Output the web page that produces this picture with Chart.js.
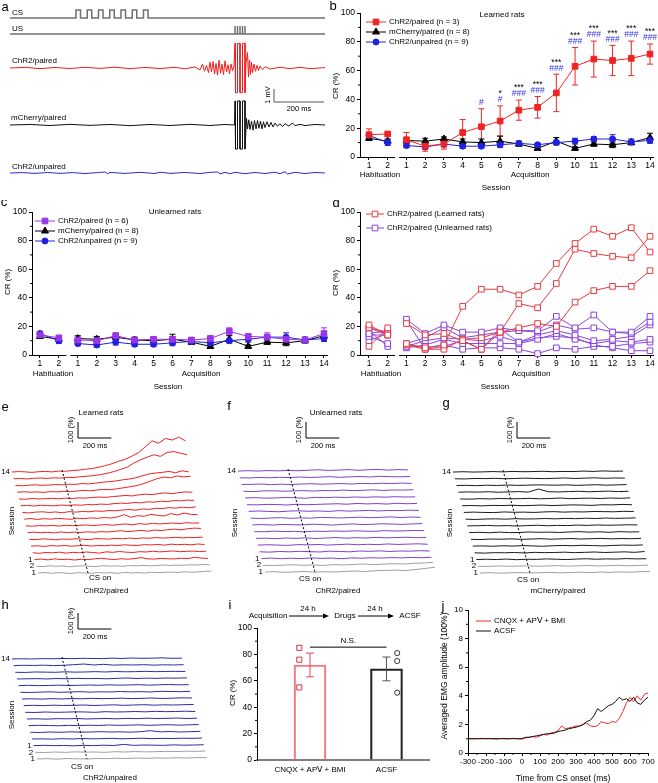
<!DOCTYPE html>
<html><head><meta charset="utf-8">
<script src="https://cdn.jsdelivr.net/npm/chart.js@4.4.1/dist/chart.umd.min.js"></script>
<style>
html,body{margin:0;padding:0;background:#fff;}
#wrap{position:relative;width:658px;height:783px;overflow:hidden;background:#fff;}
canvas{position:absolute;}
</style></head><body><div id="wrap"></div>
<script>
// ================= DATA =================
// Sessions: 2 habituation + 14 acquisition
const sessionLabels = ['1','2','1','2','3','4','5','6','7','8','9','10','11','12','13','14'];

// Panel b: learned rats, CR (%) mean and SEM
const learnedPairedMean = [15.5,16, 12,7.5,9,17,21,25,32.5,34.5,44.5,63,68,67,68.5,71.5];
const learnedPairedErr  = [4,1.5, 5,3.5,3.5,9,12.5,10.5,7,7.5,13,13,12.5,10.5,12,7];
const mCherryMean  = [13,11, 11.5,11,12.5,10.5,10,11,9,6,11,6,9,8.5,10,13.5];
const mCherryErr   = [1.5,1.5, 2,2,1.5,2,2.5,3.5,1.5,1,2.5,1,1.5,2,1.5,3];
const unpairedMean = [15,10, 8,7,9,7.5,7.5,8.5,9.5,8.5,10,11,12.5,12.5,10.5,11.5];
const unpairedErr  = [1.5,2, 1.5,1.5,2,1.5,1.5,2,1.5,1,1.5,2,1.5,3,2,2];
const starMarks = ['','','','','','','','*','***','***','***','***','***','***','***','***'];
const hashMarks = ['','','','','','','#','#','###','###','###','###','###','###','###','###'];

// Panel c: unlearned rats
const unlearnedPairedMean = [14,12, 10.5,10,13.5,10.5,11,11,10.5,11.5,16.5,13,12.5,11,10.5,15];
const unlearnedPairedErr  = [1.5,1.5, 2,2,2,1.5,1.5,2,1.5,2,2.5,1.5,3,2,2,4];

// Panel d: individual ChR2/paired rats
const learnedRat1 = [21,14, 8,5,7,34,46,46,42,48,64,78,88,83,89,72];
const learnedRat2 = [6,19, 22,14,15,10,4,16,36,33,50,74,71,69,68,83];
const learnedRat3 = [19,14, 7,4,4,11,12,16,19,22,20,37,45,48,48,59];
const unlearnedRat1 = [19,16, 25,15,21,16,16,19,17,17,27,19,28,16,16,27];
const unlearnedRat2 = [15,17, 8,12,19,12,14,16,17,16,21,18,19,16,15,23];
const unlearnedRat3 = [13,8, 6,10,12,11,10,13,9,14,17,14,10,11,13,21];
const unlearnedRat4 = [10,15, 5,7,11,8,8,8,8,11,15,11,8,10,9,11];
const unlearnedRat5 = [17,6, 7,5,7,4,5,5,4,1,5,4,6,6,8,9];
const unlearnedRat6 = [14,14, 24,4,6,10,4,18,9,12,13,12,7,5,3,3];

// Panel a: stimulus timing (ms) and EMG examples [ms, mV]
const traceDurationMs = 1260;
const csPulseOnsets = [264,309,354,399,444,489,534];
const csPulseWidth = 18;
const usPulseTimes = [900,910,920,930,940];
const emgChR2Paired = [[0,0],[60,0.05],[120,-0.05],[180,0.04],[240,-0.04],[300,0.05],[360,-0.03],[420,0.06],[480,-0.05],[540,0.04],[600,-0.04],[660,0.05],[700,-0.06],[740,0.08],[760,-0.15],[770,0.3],[778,-0.25],[786,0.2],[794,-0.35],[800,0.45],[806,-0.3],[812,0.5],[818,-0.45],[824,0.35],[830,-0.55],[836,0.6],[842,-0.4],[848,0.3],[854,-0.5],[860,0.55],[866,-0.3],[872,0.25],[878,-0.45],[884,0.3],[890,-0.2],[896,0.15],[900,1.9],[902,-1.9],[910,-1.9],[910,1.9],[920,1.9],[920,-1.9],[930,-1.9],[930,1.9],[940,1.9],[940,-1.9],[944,0.4],[950,1.2],[954,-0.7],[958,0.6],[962,-0.5],[966,0.45],[970,-0.35],[976,0.3],[982,-0.25],[988,0.2],[994,-0.2],[1000,0.15],[1010,-0.12],[1020,0.1],[1040,-0.08],[1080,0.06],[1120,-0.05],[1160,0.05],[1200,-0.05],[1260,0.03]];
const emgMCherryPaired = [[0,0],[80,0.04],[160,-0.04],[240,0.05],[320,-0.03],[400,0.04],[480,-0.05],[560,0.04],[640,-0.04],[720,0.05],[800,-0.04],[860,0.04],[898,0],[900,1.85],[902,-1.85],[910,-1.85],[910,1.85],[920,1.85],[920,-1.85],[930,-1.85],[930,1.85],[940,1.85],[940,-1.85],[946,0.5],[950,-0.3],[955,0.4],[960,-0.35],[966,0.3],[972,-0.4],[978,0.35],[984,-0.3],[990,0.35],[996,-0.25],[1002,0.3],[1008,-0.3],[1014,0.25],[1020,-0.2],[1028,0.25],[1036,-0.15],[1044,0.2],[1052,-0.15],[1060,0.15],[1070,-0.1],[1080,0.1],[1090,-0.12],[1100,0.1],[1115,-0.08],[1130,0.15],[1140,-0.05],[1160,0.05],[1180,-0.04],[1220,0.04],[1260,0]];
const emgChR2Unpaired = [[0,0],[50,0.03],[100,-0.03],[150,0.04],[200,-0.03],[250,0.03],[300,-0.04],[350,0.03],[380,0.08],[390,-0.06],[400,0.04],[460,-0.03],[520,0.05],[580,-0.04],[600,0.06],[640,-0.03],[700,0.04],[760,-0.04],[800,0.05],[830,0.08],[840,-0.07],[860,0.05],[880,-0.06],[900,0.05],[940,-0.05],[980,0.04],[1020,-0.04],[1060,0.06],[1080,-0.05],[1100,0.1],[1110,-0.08],[1140,0.05],[1180,-0.04],[1220,0.04],[1260,0]];

// Panels e-h: session-averaged EMG (% above baseline); rows: Hab1, Hab2, Acq1..Acq14
const timesE = [-300,-260,-220,-180,-140,-100,-60,-20,20,60,100,140,180,220,260,300,340,380,420,460,500,540,580,620,660,700,740];
const learnedEMG = [
 [0,3,-2,2,0,-3,2,0,-2,3,0,2,-2,4,0,3,-1,5,2,4,6,3,8,5,7,10,12],
 [0,-2,3,0,2,-3,1,3,0,-2,4,1,3,0,5,2,6,3,4,8,5,7,6,9,8,11,9],
 [0,3,-2,4,0,2,-3,2,0,4,8,3,0,5,2,6,12,4,3,7,5,4,8,6,14,9,7],
 [0,-3,2,0,4,-2,3,0,5,2,-2,6,3,8,4,2,7,5,10,6,8,12,7,9,11,8,10],
 [0,2,-2,3,0,4,-1,2,5,0,4,2,6,3,8,5,4,9,7,10,6,12,9,11,8,13,10],
 [0,-2,3,1,-3,2,0,4,1,-2,5,3,2,6,4,8,5,9,7,11,8,10,13,9,12,11,14],
 [0,3,-1,2,-2,4,0,3,1,5,2,6,4,8,12,6,10,14,9,16,13,18,22,17,24,28,26],
 [0,-2,2,0,3,-1,4,1,3,6,2,5,8,4,9,12,7,14,10,16,12,15,18,14,20,17,19],
 [0,4,-2,3,0,5,2,-1,6,3,8,5,10,7,14,28,12,22,18,30,24,20,35,26,38,30,28],
 [0,-3,2,4,0,3,-2,5,2,6,4,9,7,12,10,15,18,14,22,19,26,24,30,27,33,29,35],
 [0,2,-2,3,1,-1,4,2,5,3,7,6,10,8,13,16,14,20,18,24,22,28,26,32,30,35,33],
 [0,-2,3,0,2,4,1,5,3,7,5,9,12,10,15,18,22,19,26,30,27,34,38,33,40,44,42],
 [0,3,0,2,-1,4,2,6,4,8,11,9,14,18,16,22,28,35,42,55,70,85,95,90,102,96,100],
 [0,-2,2,4,1,3,6,4,8,7,12,10,15,20,24,28,35,40,48,60,72,78,82,88,80,92,85],
 [0,2,-1,3,5,2,6,4,9,8,13,16,20,26,34,45,58,72,98,118,135,150,140,165,170,160,150],
 [0,3,1,-2,2,4,1,6,5,9,12,18,22,30,40,52,68,80,100,122,158,195,180,210,200,218,195]];
const timesFGH = [-300,-240,-180,-120,-60,0,60,120,180,240,300,360,420,480,540,600,660,720];
const unlearnedEMG = [
 [0,2,-2,1,3,-1,2,0,4,6,3,8,10,12,9,15,22,30],
 [0,-2,1,3,0,2,-1,4,2,5,8,4,7,10,8,12,14,18],
 [0,3,-1,2,0,4,1,3,-1,4,2,5,3,6,4,7,5,8],
 [0,-2,2,0,3,1,-1,4,2,0,5,3,6,2,5,4,7,5],
 [0,2,0,-2,3,1,4,0,3,6,2,5,3,7,4,6,8,5],
 [0,1,-2,2,0,3,-1,2,5,1,4,2,6,3,5,7,4,6],
 [0,-1,3,0,2,-2,3,1,4,2,5,3,2,6,4,5,7,6],
 [0,2,-1,3,1,0,4,2,-1,3,6,2,4,7,5,3,6,8],
 [0,-2,1,3,-1,2,0,5,3,1,4,6,3,5,8,4,7,5],
 [0,3,0,-2,2,4,1,3,0,5,2,4,7,3,6,5,8,6],
 [0,-1,2,1,-2,3,0,2,4,6,3,8,5,7,4,9,6,8],
 [0,2,-1,0,3,1,-2,4,2,5,3,6,4,7,5,8,6,7],
 [0,-2,2,3,0,2,4,1,5,3,7,4,6,9,5,8,7,10],
 [0,1,3,-1,2,0,3,5,2,4,6,3,7,5,8,6,9,7],
 [0,-1,2,0,3,1,5,2,4,7,3,6,8,5,9,7,6,8],
 [0,2,0,3,1,4,2,5,8,4,6,9,5,8,10,6,9,7]];
const mCherryEMG = [
 [0,2,-1,1,3,0,2,4,1,3,5,2,6,4,7,5,8,10],
 [0,-1,2,0,1,3,0,2,4,1,3,5,2,4,6,3,5,7],
 [0,2,0,3,-1,2,1,4,2,0,3,5,2,4,3,6,4,5],
 [0,-2,1,0,2,-1,3,1,2,4,1,3,5,2,4,6,3,8],
 [0,1,-1,2,0,3,1,-1,2,4,2,5,3,1,4,6,5,7],
 [0,-1,2,1,3,0,2,4,1,3,5,2,4,6,3,5,4,6],
 [0,2,-1,3,0,1,4,2,3,1,4,6,3,5,2,6,4,5],
 [0,1,3,0,2,-1,2,4,1,3,2,5,3,6,4,5,7,6],
 [0,-2,1,2,0,3,1,2,4,2,5,3,6,4,7,5,6,8],
 [0,2,0,-1,3,1,2,0,3,5,2,4,3,6,5,4,7,6],
 [0,1,-1,2,1,3,0,2,4,1,3,5,4,2,6,5,8,6],
 [0,-1,2,0,3,1,2,4,1,3,6,2,4,5,3,6,4,7],
 [0,2,1,3,0,2,4,1,20,3,2,4,6,3,5,7,4,6],
 [0,1,-1,2,0,3,1,2,4,3,2,4,1,3,5,2,4,6],
 [0,-1,2,1,3,0,2,4,2,1,3,5,2,4,6,3,5,4],
 [0,2,0,1,3,1,4,2,3,5,2,4,3,6,4,7,5,6]];
const unpairedEMG = [
 [0,2,-1,3,1,0,4,2,5,3,6,4,7,5,8,6,9,8],
 [0,-1,2,0,3,1,2,0,4,2,5,3,4,6,5,7,6,8],
 [0,2,0,1,-1,2,0,3,1,8,2,4,3,2,5,3,4,6],
 [0,1,-1,2,0,3,1,2,4,1,3,5,2,4,3,5,4,6],
 [0,-1,2,0,3,1,2,4,2,3,1,4,10,3,5,2,4,6],
 [0,2,1,-1,2,0,3,1,4,2,3,5,2,4,6,3,5,7],
 [0,1,-1,2,1,3,0,2,3,1,4,2,5,3,4,6,3,5],
 [0,-1,2,0,1,3,2,0,4,2,3,5,3,6,4,5,7,5],
 [0,2,0,3,1,2,4,1,3,5,2,4,6,3,5,4,6,7],
 [0,1,-1,2,0,3,1,4,2,3,5,2,4,6,3,5,7,6],
 [0,-1,1,3,0,2,4,1,3,2,5,3,4,2,6,5,4,6],
 [0,2,0,1,3,1,2,4,2,5,3,4,6,3,5,7,5,6],
 [0,1,2,0,3,1,4,2,3,1,4,6,3,5,4,6,5,7],
 [0,-1,2,1,0,3,1,2,4,2,5,3,4,6,4,5,6,5],
 [0,2,1,3,0,2,6,10,4,8,3,5,4,6,3,5,4,6],
 [0,1,0,2,1,3,2,4,3,2,5,3,6,4,5,7,4,5]];

// Panel i
const drugGroups = ['CNQX + APⅤ + BMI', 'ACSF'];
const drugBarMean = [72, 69];
const drugBarErr = [9, 9];
const drugRats = [85, 76, 55];
const acsfRats = [81, 75, 51];

// Panel j: averaged EMG amplitude (x100%) vs time from CS onset
const emgTimeMs = [-300,-280,-260,-240,-220,-200,-180,-160,-140,-120,-100,-80,-60,-40,-20,0,20,40,60,80,100,120,140,160,180,200,220,240,260,280,300,320,340,360,380,400,420,440,460,480,500,520,540,560,580,600,620,640,660,680,700];
const emgDrug = [1.0,0.98,1.01,1.0,0.99,1.02,1.0,0.98,1.0,1.01,0.99,1.0,1.01,0.99,1.0,0.98,1.05,1.1,1.15,1.1,1.2,1.3,1.25,1.4,1.45,1.55,1.9,1.7,1.75,1.8,1.9,1.85,2.0,2.1,1.9,1.85,1.9,2.2,2.1,2.05,2.2,2.15,2.4,2.9,3.5,3.9,3.6,4.0,3.7,4.1,4.2];
const emgACSF = [1.0,1.01,0.99,1.0,1.02,0.99,1.0,1.01,0.98,1.0,1.01,0.99,1.0,1.02,0.99,1.0,1.1,1.1,1.15,1.2,1.25,1.3,1.35,1.35,1.4,1.5,1.55,1.6,1.7,1.75,1.8,1.9,2.0,2.2,2.3,2.6,3.1,2.9,3.1,3.3,3.4,3.6,3.9,3.7,3.8,3.6,3.9,3.5,3.4,3.7,3.9];

// ================= SETUP =================
const FONT = '"Liberation Sans", Arial, sans-serif';
Chart.defaults.font.family = FONT;
Chart.defaults.font.size = 8;
Chart.defaults.color = '#000';
Chart.defaults.animation = false;
Chart.defaults.responsive = false;
Chart.defaults.maintainAspectRatio = false;
Chart.defaults.devicePixelRatio = 1;
Chart.defaults.layout.autoPadding = false;
Chart.defaults.plugins.legend.display = false;
Chart.defaults.plugins.tooltip.enabled = false;
Chart.defaults.events = [];

const RED = '#ee2424', BLUE = '#2020e0', BLACK = '#000', PURPLE = '#9b36e8';
const RED_D = '#e63a3f', PURPLE_D = '#8a44dc', GRAY = '#a0a0a0';

const wrap = document.getElementById('wrap');
function mkCanvas(left, top, w, h) {
  const c = document.createElement('canvas');
  c.width = w; c.height = h;
  c.style.left = left + 'px'; c.style.top = top + 'px';
  c.style.width = w + 'px'; c.style.height = h + 'px';
  wrap.appendChild(c);
  return c;
}
let ovId = 0;
function overlay(left, top, fn, hook) {
  const p = { id: 'ov' + (ovId++) };
  p[hook || 'afterDraw'] = function (chart) {
    const ctx = chart.ctx; ctx.save(); ctx.translate(-left, -top);
    const P = (xv, yv) => [chart.scales.x.getPixelForValue(xv) + left, chart.scales.y.getPixelForValue(yv) + top];
    fn(ctx, P, chart, left, top); ctx.restore();
  };
  return p;
}
function text(ctx, s, x, y, o) {
  o = o || {};
  ctx.save();
  ctx.font = (o.size || 8) + 'px ' + FONT;
  ctx.fillStyle = o.color || '#000';
  ctx.textAlign = o.align || 'center';
  ctx.textBaseline = o.base || 'middle';
  ctx.translate(x, y);
  if (o.rot) ctx.rotate(o.rot);
  ctx.fillText(s, 0, 0);
  ctx.restore();
}
function line(ctx, pts, color, w, dash) {
  ctx.save(); ctx.strokeStyle = color || '#000'; ctx.lineWidth = w || 1;
  if (dash) ctx.setLineDash(dash);
  ctx.beginPath();
  pts.forEach((p, i) => i ? ctx.lineTo(p[0], p[1]) : ctx.moveTo(p[0], p[1]));
  ctx.stroke(); ctx.restore();
}
function marker(ctx, style, x, y, r, fill, stroke) {
  ctx.save(); ctx.beginPath();
  if (style === 'rect') { const h = r / Math.SQRT2; ctx.rect(x - h, y - h, 2 * h, 2 * h); }
  else if (style === 'triangle') {
    for (let k = 0; k < 3; k++) { const a = k * 2 * Math.PI / 3; const px = x + Math.sin(a) * r, py = y - Math.cos(a) * r; if (k) ctx.lineTo(px, py); else ctx.moveTo(px, py); }
    ctx.closePath();
  } else ctx.arc(x, y, r, 0, 2 * Math.PI);
  ctx.fillStyle = fill; ctx.fill(); ctx.strokeStyle = stroke; ctx.lineWidth = 1; ctx.stroke(); ctx.restore();
}
function legend(ctx, items, x1, x2, y0, dy) {
  items.forEach((it, i) => {
    const y = y0 + i * dy;
    line(ctx, [[x1, y], [x2, y]], it.color, 1);
    marker(ctx, it.style, (x1 + x2) / 2, y, it.r, it.open ? '#fff' : it.color, it.color);
    text(ctx, it.label, x2 + 3, y, { align: 'left' });
  });
}
function errBar(ctx, x, yTop, yBot, color, cap) {
  line(ctx, [[x, yTop], [x, yBot]], color, 1);
  line(ctx, [[x - cap, yTop], [x + cap, yTop]], color, 1);
  line(ctx, [[x - cap, yBot], [x + cap, yBot]], color, 1);
}
const ROT = -Math.PI / 2;

// ================= SESSION CHARTS (b, c, d) =================
function sessionPoints(arr) {
  const pts = [];
  arr.forEach((v, i) => { if (i === 2) pts.push({ x: 1.5, y: null }); pts.push({ x: i, y: v }); });
  return pts;
}
function sessionChart(cfg) {
  const cv = mkCanvas(cfg.left, cfg.top, cfg.width, cfg.height);
  const xs = sessionLabels.map((_, i) => i);
  const axisCommon = { grid: { drawOnChartArea: false, tickLength: 3, color: '#000', lineWidth: 1 }, border: { color: '#000', width: 1 } };
  return new Chart(cv, {
    type: 'line',
    data: { datasets: cfg.series.map((s, si) => ({
      data: sessionPoints(s.values), borderColor: s.color, backgroundColor: s.open ? '#fff' : s.color,
      borderWidth: 1, pointStyle: s.style, pointRadius: s.r, pointBorderWidth: 1, pointBorderColor: s.color,
      pointBackgroundColor: s.open ? '#fff' : s.color, spanGaps: false, tension: 0, clip: false, order: s.z || 0 })) },
    options: {
      layout: { padding: { left: 0, top: cfg.padTop, right: cfg.padRight, bottom: 0 } },
      scales: {
        x: Object.assign({ type: 'linear', min: cfg.xmin, max: cfg.xmax,
          afterBuildTicks: s => { s.ticks = xs.map(v => ({ value: v })); },
          afterFit: s => { s.height = cfg.xH; },
          ticks: { callback: v => sessionLabels[Math.round(v)], autoSkip: false, maxRotation: 0, padding: 1, font: { size: 8.5 } } }, axisCommon),
        y: Object.assign({ type: 'linear', min: 0, max: 100,
          afterBuildTicks: s => { s.ticks = [0, 20, 40, 60, 80, 100].map(v => ({ value: v })); },
          afterFit: s => { s.width = cfg.yW; },
          ticks: { padding: 2, font: { size: 8.5 } } }, axisCommon)
      }
    },
    plugins: [
      overlay(cfg.left, cfg.top, (ctx, P) => {
        cfg.series.forEach(s => { if (!s.errs) return; s.values.forEach((v, i) => {
          const [x, yt] = P(i, v + s.errs[i]); const [, yb] = P(i, v - s.errs[i]);
          errBar(ctx, x, yt, yb, s.color, 3); }); });
      }, 'beforeDatasetsDraw'),
      overlay(cfg.left, cfg.top, (ctx, P, chart, L, Tp) => {
        const ca = chart.chartArea;
        // minor y ticks
        [10, 30, 50, 70, 90].forEach(v => { const [, y] = P(0, v); line(ctx, [[ca.left + L - 2, y], [ca.left + L, y]], '#000', 1); });
        // axis break between habituation and acquisition
        const [gx] = P(1.5, 0); ctx.fillStyle = '#fff'; ctx.fillRect(gx - 2, ca.bottom + Tp - 2, 4, 4);
        cfg.decor(ctx, P);
      })
    ]
  });
}

// ---- panel b
sessionChart({ left: 320, top: 0, width: 338, height: 200, padTop: 13, padRight: 5, yW: 40, xH: 43, xmin: -0.48, xmax: 15.16,
  series: [
    { values: learnedPairedMean, errs: learnedPairedErr, color: RED, style: 'rect', r: 4, label: 'ChR2/paired (n = 3)', z: 0 },
    { values: mCherryMean, errs: mCherryErr, color: BLACK, style: 'triangle', r: 4, label: 'mCherry/paired (n = 8)', z: 2 },
    { values: unpairedMean, errs: unpairedErr, color: BLUE, style: 'circle', r: 3, label: 'ChR2/unpaired (n = 9)', z: 1 }],
  decor: (ctx, P) => {
    text(ctx, 'b', 333, 6, { size: 13 });
    text(ctx, 'Learned rats', 502, 15);
    text(ctx, 'CR (%)', 336, 86, { rot: ROT });
    text(ctx, 'Habituation', 380, 175); text(ctx, 'Acquisition', 530, 175); text(ctx, 'Session', 496, 188);
    legend(ctx, [
      { label: 'ChR2/paired (n = 3)', color: RED, style: 'rect', r: 4 },
      { label: 'mCherry/paired (n = 8)', color: BLACK, style: 'triangle', r: 4 },
      { label: 'ChR2/unpaired (n = 9)', color: BLUE, style: 'circle', r: 3 }], 366, 386, 22, 10);
    learnedPairedMean.forEach((v, i) => {
      const [x, y] = P(i, v + learnedPairedErr[i]);
      if (hashMarks[i]) text(ctx, hashMarks[i], x, y - 6, { color: '#3030ee', size: 8.5 });
      if (starMarks[i]) text(ctx, starMarks[i], x, y - 12, { size: 8.5 });
    });
  } });

// ---- panel c
sessionChart({ left: 0, top: 200, width: 330, height: 195, padTop: 12, padRight: 3, yW: 32, xH: 40, xmin: -0.42, xmax: 15.16,
  series: [
    { values: unlearnedPairedMean, errs: unlearnedPairedErr, color: PURPLE, style: 'rect', r: 4, z: 0 },
    { values: mCherryMean, errs: mCherryErr, color: BLACK, style: 'triangle', r: 4, z: 2 },
    { values: unpairedMean, errs: unpairedErr, color: BLUE, style: 'circle', r: 3, z: 1 }],
  decor: (ctx, P) => {
    text(ctx, 'c', 4, 202, { size: 13 });
    text(ctx, 'Unlearned rats', 175, 212);
    text(ctx, 'CR (%)', 8, 282, { rot: ROT });
    text(ctx, 'Habituation', 53, 374); text(ctx, 'Acquisition', 201, 374); text(ctx, 'Session', 168, 387);
    legend(ctx, [
      { label: 'ChR2/paired (n = 6)', color: PURPLE, style: 'rect', r: 4 },
      { label: 'mCherry/paired (n = 8)', color: BLACK, style: 'triangle', r: 4 },
      { label: 'ChR2/unpaired (n = 9)', color: BLUE, style: 'circle', r: 3 }], 35, 55, 221, 10);
  } });

// ---- panel d
sessionChart({ left: 320, top: 200, width: 338, height: 195, padTop: 12, padRight: 5, yW: 40, xH: 40, xmin: -0.48, xmax: 15.16,
  series: [learnedRat1, learnedRat2, learnedRat3].map(v => ({ values: v, color: RED_D, style: 'rect', r: 4, open: true, z: 0 }))
    .concat([unlearnedRat1, unlearnedRat2, unlearnedRat3, unlearnedRat4, unlearnedRat5, unlearnedRat6].map(v => ({ values: v, color: PURPLE_D, style: 'rect', r: 4, open: true, z: 1 }))),
  decor: (ctx, P) => {
    text(ctx, 'd', 336, 203, { size: 13 });
    text(ctx, 'CR (%)', 336, 283, { rot: ROT });
    text(ctx, 'Habituation', 381, 374); text(ctx, 'Acquisition', 531, 374); text(ctx, 'Session', 495, 387);
    legend(ctx, [
      { label: 'ChR2/paired (Learned rats)', color: RED_D, style: 'rect', r: 4, open: true },
      { label: 'ChR2/paired (Unlearned rats)', color: PURPLE_D, style: 'rect', r: 4, open: true }], 366, 384, 214, 14);
  } });

// ================= PANEL a =================
(function () {
  const left = 0, top = 0, W = 330, H = 185;
  const mVpx = 13, msPx = 0.25, x0 = 10; // layout scale
  const rows = { cs: 18, us: 34, red: 68, black: 125, blue: 173 }; // baseline px
  const stimH = 8; // px height of stimulus marks
  const base = r => -rows[r] / mVpx;
  const stim = (r, pts) => pts.map(p => ({ x: p[0], y: base(r) + p[1] * stimH / mVpx }));
  const csPts = [[0, 0]]; csPulseOnsets.forEach(t => { csPts.push([t, 0], [t, 1], [t + csPulseWidth, 1], [t + csPulseWidth, 0]); }); csPts.push([traceDurationMs, 0]);
  const usPts = [[0, 0]]; usPulseTimes.forEach(t => { usPts.push([t, 0], [t, 1], [t, 0]); }); usPts.push([traceDurationMs, 0]);
  const emg = (r, arr) => arr.map(p => ({ x: p[0], y: base(r) + p[1] }));
  const ds = (data, color, w) => ({ data, borderColor: color, borderWidth: w, pointRadius: 0, showLine: true, tension: 0 });
  new Chart(mkCanvas(left, top, W, H), {
    type: 'scatter',
    data: { datasets: [
      ds(stim('cs', csPts), '#707070', 1.5), ds(stim('us', usPts), '#707070', 1.5),
      ds(emg('red', emgChR2Paired), '#f01c1c', 1), ds(emg('black', emgMCherryPaired), '#111', 1),
      ds(emg('blue', emgChR2Unpaired), '#2a2ad0', 1)] },
    options: { layout: { padding: 0 }, scales: {
      x: { type: 'linear', display: false, min: -x0 / msPx, max: (W - x0) / msPx },
      y: { type: 'linear', display: false, min: -H / mVpx, max: 0 } } },
    plugins: [overlay(left, top, (ctx, P) => {
      text(ctx, 'a', 5, 7, { size: 13 });
      text(ctx, 'CS', 12, 13, { align: 'left' });
      text(ctx, 'US', 12, 29, { align: 'left' });
      text(ctx, 'ChR2/paired', 12, 61, { align: 'left' });
      text(ctx, 'mCherry/paired', 11, 118, { align: 'left' });
      text(ctx, 'ChR2/unpaired', 12, 167, { align: 'left' });
      const bx = 274, by = 102;
      line(ctx, [[bx, by - 1 * mVpx], [bx, by], [bx + 200 * msPx, by]], '#555', 1);
      text(ctx, '1 mV', bx - 6, by - 7, { rot: ROT, size: 7.5 });
      text(ctx, '200 ms', bx + 25, by + 7, { size: 7.5 });
    })]
  });
})();

// ================= WATERFALLS (e-h) =================
function makeWaterfall(cfg) {
  const cv = mkCanvas(cfg.left, cfg.top, cfg.width, cfg.height);
  const dxMs = cfg.dx / cfg.pxMs, dyPct = -cfg.dy / cfg.pxPct;
  const offX = cfg.x0 - cfg.left, offY = cfg.y0 - cfg.top;
  const datasets = cfg.traces.map((tr, k) => ({
    data: tr.map((v, i) => ({ x: cfg.times[i] + k * dxMs, y: v + k * dyPct })),
    borderColor: k < 2 ? GRAY : cfg.color, borderWidth: 1, pointRadius: 0, showLine: true, tension: 0 }));
  new Chart(cv, { type: 'scatter', data: { datasets },
    options: { layout: { padding: 0 }, scales: {
      x: { type: 'linear', display: false, min: -offX / cfg.pxMs, max: (cfg.width - offX) / cfg.pxMs },
      y: { type: 'linear', display: false, min: (offY - cfg.height) / cfg.pxPct, max: offY / cfg.pxPct } } },
    plugins: [overlay(cfg.left, cfg.top, (ctx, P) => {
      const n = cfg.traces.length - 1;
      line(ctx, [P(n * dxMs, n * dyPct + 12), P(0, 0)], '#000', 1, [2, 2]);
      [[n, '14'], [2, '1'], [1, '2'], [0, '1']].forEach(([k, s]) => {
        const [x, y] = P(cfg.times[0] + k * dxMs, k * dyPct);
        text(ctx, s, x - 2, y, { align: 'right', size: 8 });
      });
      const [bx, by] = cfg.bar;
      line(ctx, [[bx, by - 100 * cfg.pxPct], [bx, by], [bx + 200 * cfg.pxMs, by]], '#000', 1);
      text(ctx, '100 (%)', bx - 7, by - 8, { rot: ROT, size: 7.5 });
      text(ctx, '200 ms', bx + 17, by + 8, { size: 7.5 });
      text(ctx, cfg.letter[0], cfg.letter[1], cfg.letter[2], { size: 13 });
      if (cfg.title) text(ctx, cfg.title[0], cfg.title[1], cfg.title[2]);
      text(ctx, 'Session', cfg.session[0], cfg.session[1], { rot: ROT });
      text(ctx, 'CS on', cfg.cson[0], cfg.cson[1]);
      text(ctx, cfg.group[0], cfg.group[1], cfg.group[2]);
    })]
  });
}
makeWaterfall({ left: 0, top: 398, width: 225, height: 200, x0: 88, y0: 573, dx: -1.73, dy: -6.73, pxMs: 0.1667, pxPct: 0.16,
  times: timesE, traces: learnedEMG, color: '#ee2020', bar: [78, 438], letter: ['e', 5, 407], title: ['Learned rats', 101, 413],
  session: [12, 521], cson: [100, 578], group: ['ChR2/paired', 106, 591] });
makeWaterfall({ left: 222, top: 398, width: 222, height: 200, x0: 315, y0: 572, dx: -1.8, dy: -6.73, pxMs: 0.1667, pxPct: 0.16,
  times: timesFGH, traces: unlearnedEMG, color: '#8040cc', bar: [306, 438], letter: ['f', 229, 406], title: ['Unlearned rats', 336, 413],
  session: [235, 523], cson: [310, 579], group: ['ChR2/paired', 338, 591] });
makeWaterfall({ left: 440, top: 398, width: 218, height: 200, x0: 530, y0: 573, dx: -1.8, dy: -6.73, pxMs: 0.1667, pxPct: 0.16,
  times: timesFGH, traces: mCherryEMG, color: '#1a1a1a', bar: [517, 438], letter: ['g', 446, 403], title: null,
  session: [450, 523], cson: [528, 580], group: ['mCherry/paired', 558, 591] });
makeWaterfall({ left: 0, top: 596, width: 222, height: 187, x0: 87, y0: 759, dx: -1.67, dy: -6.67, pxMs: 0.1667, pxPct: 0.16,
  times: timesFGH, traces: unpairedEMG, color: '#2c2ca8', bar: [78, 629], letter: ['h', 5, 605], title: null,
  session: [12, 715], cson: [82, 767], group: ['ChR2/unpaired', 110, 778] });

// ================= PANEL i =================
(function () {
  const left = 200, top = 590, W = 230, H = 193;
  const barColors = ['#f27a82', '#222'];
  const errColors = ['#e04550', '#555'];
  new Chart(mkCanvas(left, top, W, H), {
    type: 'bar',
    data: { datasets: [
      { type: 'scatter', data: drugRats.map(v => ({ x: 0.86, y: v })), pointStyle: 'rect', pointRadius: 3.6, pointBorderColor: '#e2303c', pointBackgroundColor: '#fff', pointBorderWidth: 1 },
      { type: 'scatter', data: acsfRats.map(v => ({ x: 2.14, y: v })), pointStyle: 'circle', pointRadius: 2.6, pointBorderColor: '#333', pointBackgroundColor: '#fff', pointBorderWidth: 1 },
      { type: 'bar', data: drugBarMean.map((v, i) => ({ x: i + 1, y: v })), backgroundColor: 'rgba(255,255,255,0)', borderColor: barColors, borderWidth: 1.5, barThickness: 32, borderSkipped: 'start' }] },
    options: {
      layout: { padding: { left: 0, top: 38, right: 0, bottom: 0 } },
      scales: {
        x: { type: 'linear', offset: false, min: 0.307, max: 2.569,
          afterBuildTicks: s => { s.ticks = [1, 2].map(v => ({ value: v })); },
          afterFit: s => { s.height = 23; },
          ticks: { callback: v => drugGroups[Math.round(v) - 1], autoSkip: false, maxRotation: 0, padding: 5, font: { size: 8 } },
          grid: { display: false, drawTicks: false, offset: false }, border: { color: '#808080', width: 2 } },
        y: { type: 'linear', min: 0, max: 100,
          afterBuildTicks: s => { s.ticks = [0, 20, 40, 60, 80, 100].map(v => ({ value: v })); },
          afterFit: s => { s.width = 57; },
          ticks: { padding: 2, font: { size: 8.5 } },
          grid: { drawOnChartArea: false, tickLength: 3, color: '#000' }, border: { color: '#000', width: 1 } } } },
    plugins: [overlay(left, top, (ctx, P, chart) => {
      const ca = chart.chartArea;
      [10, 30, 50, 70, 90].forEach(v => { const [, y] = P(1, v); line(ctx, [[ca.left + left - 2, y], [ca.left + left, y]], '#000', 1); });
      drugBarMean.forEach((m, i) => { const [x, yt] = P(i + 1, m + drugBarErr[i]); const [, yb] = P(i + 1, m - drugBarErr[i]); errBar(ctx, x, yt, yb, errColors[i], 4); });
      const [nx1, ny] = P(1, 85.5), [nx2] = P(2, 85.5);
      line(ctx, [[nx1, ny], [nx2, ny]], '#000', 1);
      text(ctx, 'N.S.', (nx1 + nx2) / 2, ny - 6);
      text(ctx, 'i', 230, 605, { size: 13 });
      text(ctx, 'CR (%)', 233, 693, { rot: ROT });
      const arrow = (x1, x2, y) => { line(ctx, [[x1, y], [x2 - 4, y]], '#000', 1); ctx.beginPath(); ctx.moveTo(x2, y); ctx.lineTo(x2 - 6, y - 2.5); ctx.lineTo(x2 - 6, y + 2.5); ctx.closePath(); ctx.fillStyle = '#000'; ctx.fill(); };
      text(ctx, 'Acquisition', 268, 616); arrow(289, 329, 616); text(ctx, '24 h', 308, 609);
      text(ctx, 'Drugs', 345, 616); arrow(358, 394, 616); text(ctx, '24 h', 375, 609);
      text(ctx, 'ACSF', 410, 616);
    })]
  });
})();

// ================= PANEL j =================
(function () {
  const left = 430, top = 590, W = 228, H = 193;
  const ax = { grid: { drawOnChartArea: false, tickLength: 3, color: '#000' }, border: { color: '#000', width: 1 } };
  new Chart(mkCanvas(left, top, W, H), {
    type: 'line',
    data: { datasets: [
      { data: emgTimeMs.map((t, i) => ({ x: t, y: emgACSF[i] })), borderColor: '#111', borderWidth: 1, pointRadius: 0, tension: 0 },
      { data: emgTimeMs.map((t, i) => ({ x: t, y: emgDrug[i] })), borderColor: '#ee2a2a', borderWidth: 1, pointRadius: 0, tension: 0 }] },
    options: {
      layout: { padding: { left: 0, top: 20, right: 10, bottom: 0 } },
      scales: {
        x: Object.assign({ type: 'linear', min: -300, max: 700,
          afterBuildTicks: s => { s.ticks = [-300, -200, -100, 0, 100, 200, 300, 400, 500, 600, 700].map(v => ({ value: v })); },
          afterFit: s => { s.height = 30; },
          ticks: { autoSkip: false, maxRotation: 0, padding: 1, font: { size: 8 }, callback: v => String(v) } }, ax),
        y: Object.assign({ type: 'linear', min: 0, max: 10,
          afterBuildTicks: s => { s.ticks = [0, 2, 4, 6, 8, 10].map(v => ({ value: v })); },
          afterFit: s => { s.width = 38; },
          ticks: { padding: 2, font: { size: 8 } } }, ax) } },
    plugins: [overlay(left, top, (ctx, P, chart) => {
      const ca = chart.chartArea;
      [1, 3, 5, 7, 9].forEach(v => { const [, y] = P(0, v); line(ctx, [[ca.left + left - 2, y], [ca.left + left, y]], '#000', 1); });
      [-250, -150, -50, 50, 150, 250, 350, 450, 550, 650].forEach(v => { const [x] = P(v, 0); line(ctx, [[x, ca.bottom + top], [x, ca.bottom + top + 2]], '#000', 1); });
      text(ctx, 'j', 443, 606, { size: 13 });
      text(ctx, 'Averaged EMG amplitude (100%)', 445, 676, { rot: ROT, size: 8.5 });
      text(ctx, 'Time from CS onset (ms)', 563, 779, { size: 8.5 });
      line(ctx, [[476, 621], [491, 621]], '#ee2a2a', 1); text(ctx, 'CNQX + APⅤ + BMI', 494, 621, { align: 'left' });
      line(ctx, [[476, 631], [491, 631]], '#111', 1); text(ctx, 'ACSF', 494, 631, { align: 'left' });
    })]
  });
})();
</script></body></html>
